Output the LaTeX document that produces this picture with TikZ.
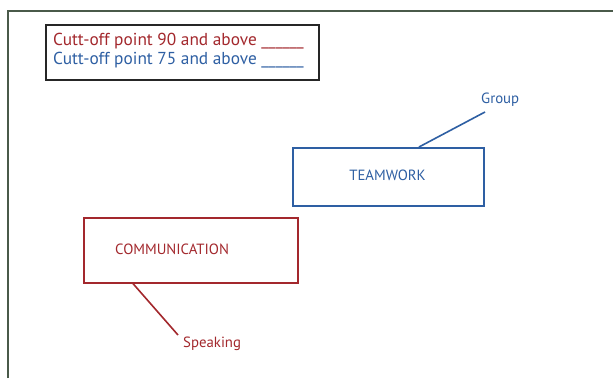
\documentclass[tikz,border=0pt]{standalone}
\usepackage{fontspec}
\setmainfont{PT Sans}
\definecolor{cred}{HTML}{A3282D}
\definecolor{cblue}{HTML}{2E5FA3}
\definecolor{frame}{HTML}{4A5A4A}
\begin{document}
\begin{tikzpicture}[x=1pt,y=-1pt,
  redbox/.style={draw=cred,line width=1.6pt,inner sep=0pt},
  bluebox/.style={draw=cblue,line width=1.6pt,inner sep=0pt},
  lbl/.style={inner sep=0pt,font=\fontsize{14.8}{17}\selectfont},
  leg/.style={anchor=west,inner sep=0pt,font=\fontsize{17.3}{20}\selectfont}]
\useasboundingbox (0,0) rectangle (613,378);
\fill[white] (0,0) rectangle (613,378);
% outer frame
\draw[frame,line width=2pt] (8,378) -- (8,10.5) -- (613,10.5);
% legend
\node[draw=black!85,line width=1.6pt,minimum width=273pt,minimum height=55pt,anchor=north west,inner sep=0pt] (legend) at (45,24) {};
\node[leg,text=cred] (l1) at (53,41) {Cutt-off point 90 and above \_\_\_\_\_\_};
\node[leg,text=cblue] (l2) at (53,60) {Cutt-off point 75 and above \_\_\_\_\_\_};
% teamwork
\node[bluebox,minimum width=191pt,minimum height=58pt,anchor=north west] (team) at (292,147) {};
\node[lbl,text=cblue] (teamt) at (387.5,175) {TEAMWORK};
\node[lbl,text=cblue,anchor=west] (group) at (481,100) {Group};
\coordinate (gend) at (485,112);
\draw[cblue,line width=1.6pt] (team.north west) ++(127,0) coordinate (tstart) -- (gend);
% communication
\node[redbox,minimum width=214pt,minimum height=65pt,anchor=north west] (comm) at (83,217) {};
\node[lbl,text=cred,anchor=west] (commt) at (115,249) {COMMUNICATION};
\node[lbl,text=cred,anchor=west] (speak) at (183,344) {Speaking};
\coordinate (send) at (178,335);
\draw[cred,line width=1.6pt] (comm.south west) ++(50,0) -- (send);
\end{tikzpicture}
\end{document}
